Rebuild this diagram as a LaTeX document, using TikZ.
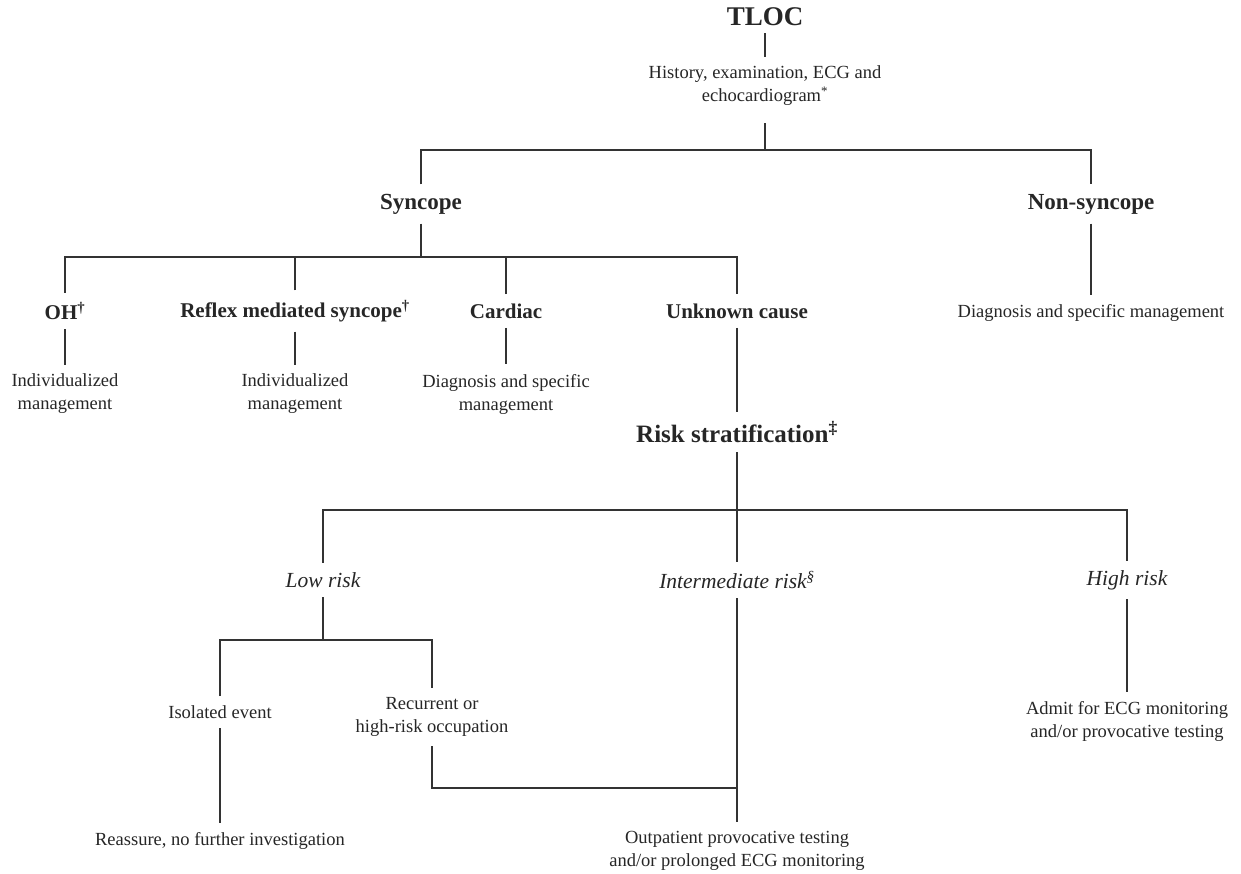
\documentclass[tikz,border=0pt]{standalone}
\usepackage{fontspec}
\setmainfont{Liberation Serif}
\tikzset{
   txt/.style={align=center, inner sep=7pt, outer sep=2.5pt, text=black!85,
      font=\fontsize{18.5}{23}\selectfont},
   head/.style={txt, font=\fontsize{21}{25}\selectfont\bfseries},
   grp/.style={txt, font=\fontsize{23}{27}\selectfont\bfseries},
   big/.style={txt, font=\fontsize{25}{29}\selectfont\bfseries},
   rsk/.style={txt, font=\fontsize{21.5}{25}\selectfont\itshape},
   link/.style={draw=black!80, line width=1.3pt}
}
\begin{document}
\begin{tikzpicture}[x=1pt, y=-1pt]
   \useasboundingbox[fill=white] (0,0) rectangle (1241,873);
   % top of the tree
   \node[txt, outer sep=0pt, font=\fontsize{27}{30}\selectfont\bfseries] (tloc) at (765,17) {TLOC};
   \node[txt] (hist) at (765,86) {History, examination, ECG and\\echocardiogram\textsuperscript{*}};
   \node[grp] (sync) at (421,204) {Syncope};
   \node[grp] (nons) at (1091,204) {Non-syncope};
   % causes
   \node[head] (oh) at (65,311) {OH\textsuperscript{†}};
   \node[head] (refl) at (295,311) {Reflex mediated syncope\textsuperscript{†}};
   \node[head] (card) at (506,311) {Cardiac};
   \node[head] (unk) at (737,311) {Unknown cause};
   \node[txt] (ndiag) at (1091,313) {Diagnosis and specific management};
   \node[txt] (ohm) at (65,394) {Individualized\\management};
   \node[txt] (reflm) at (295,394) {Individualized\\management};
   \node[txt] (cardm) at (506,394) {Diagnosis and specific\\management};
   \node[big] (risk) at (737,432) {Risk stratification\textsuperscript{‡}};
   % risk groups
   \node[rsk] (low) at (323,580) {Low risk};
   \node[rsk] (mid) at (737,580) {Intermediate risk\textsuperscript{§}};
   \node[rsk] (high) at (1127,580) {High risk};
   \node[txt] (iso) at (220,712) {Isolated event};
   \node[txt] (recur) at (432,717) {Recurrent or\\high-risk occupation};
   \node[txt] (admit) at (1127,721) {Admit for ECG monitoring\\and/or provocative testing};
   \node[txt] (reass) at (220,841) {Reassure, no further investigation};
   \node[txt] (outp) at (737,851) {Outpatient provocative testing\\and/or prolonged ECG monitoring};
   % branch points
   \coordinate (b1) at (765,150);
   \coordinate (b2) at (421,257);
   \coordinate (b3) at (737,510);
   \coordinate (b4) at (323,640);
   \coordinate (b5) at (737,788);
   % connectors
   \draw[link] (tloc) -- (hist);
   \draw[link] ([yshift=-8]hist.south) -- (b1);
   \draw[link] (sync) |- (b1) -| (nons);
   \draw[link] (sync) -- (b2);
   \draw[link] (oh) |- (b2) -| (unk);
   \foreach \n in {refl, card} {
      \draw[link] (\n) -- (\n |- b2);
   }
   \foreach \a/\b in {oh/ohm, refl/reflm, card/cardm, nons/ndiag, unk/risk} {
      \draw[link] (\a) -- (\b);
   }
   \draw[link] (risk) -- (b3);
   \draw[link] (low) |- (b3) -| (high);
   \draw[link] (mid) -- (b3);
   \draw[link] (low) -- (b4);
   \draw[link] (iso) |- (b4) -| (recur);
   \draw[link] (iso) -- (reass);
   \draw[link] (recur) |- (b5);
   \draw[link] (mid) -- (outp);
   \draw[link] (high) -- (admit);
\end{tikzpicture}
\end{document}
